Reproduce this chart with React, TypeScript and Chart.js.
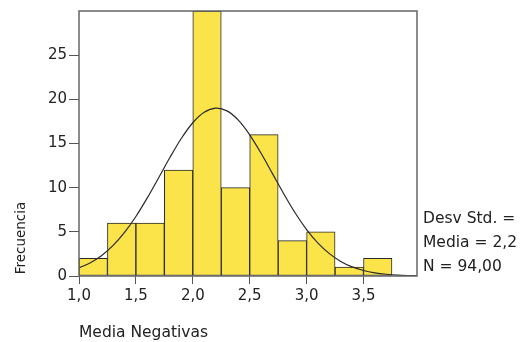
import React, { useEffect, useRef } from "react";
import { Chart, registerables } from "chart.js";

Chart.register(...registerables);

// Histogram bins (lower edge) and frequencies
const binLower = [1.0, 1.25, 1.5, 1.75, 2.0, 2.25, 2.5, 2.75, 3.0, 3.25, 3.5];
const binWidth = 0.25;
const frequencies = [2, 6, 6, 12, 30, 10, 16, 4, 5, 1, 2];

// Fitted normal curve
const curveX = [1.0, 1.1, 1.2, 1.3, 1.4, 1.5, 1.6, 1.7, 1.8, 1.9, 2.0, 2.1, 2.2, 2.3, 2.4, 2.5, 2.6, 2.7, 2.8, 2.9, 3.0, 3.1, 3.2, 3.3, 3.4, 3.5, 3.6, 3.7, 3.8, 3.9, 3.97];
const curveY = [0.93, 1.51, 2.33, 3.46, 4.93, 6.74, 8.84, 11.13, 13.44, 15.59, 17.35, 18.53, 19.0, 18.69, 17.64, 15.98, 13.89, 11.59, 9.29, 7.13, 5.26, 3.72, 2.53, 1.65, 1.03, 0.62, 0.36, 0.2, 0.1, 0.05, 0.03];

const xTicksMin = 1.0;
const xTicksMax = 3.97;
const yMax = 30;

const statsLines = ["Desv Std. =", "Media = 2,2", "N = 94,00"];
const xTitle = "Media Negativas";
const yTitle = "Frecuencia";

const fmt = (v: number) => v.toFixed(1).replace(".", ",");

export default function App() {
  const ref = useRef<HTMLCanvasElement | null>(null);

  useEffect(() => {
    if (!ref.current) return;
    const FONT = "'DejaVu Sans', sans-serif";
    Chart.defaults.font.family = FONT;
    Chart.defaults.color = "#222";

    const framePlugin = {
      id: "framePlugin",
      afterDatasetsDraw(chart: any) {
        const { ctx, chartArea } = chart;
        ctx.save();
        ctx.strokeStyle = "#666";
        ctx.lineWidth = 1.5;
        ctx.strokeRect(chartArea.left, chartArea.top, chartArea.right - chartArea.left, chartArea.bottom - chartArea.top);
        ctx.restore();
      },
      afterDraw(chart: any) {
        const { ctx } = chart;
        ctx.save();
        ctx.fillStyle = "#222";
        ctx.textBaseline = "middle";
        // y title
        ctx.save();
        ctx.translate(21, 238);
        ctx.rotate(-Math.PI / 2);
        ctx.textAlign = "center";
        ctx.font = `13.5px ${FONT}`;
        ctx.fillText(yTitle, 0, 0);
        ctx.restore();
        // x title
        ctx.textAlign = "left";
        ctx.font = `15.5px ${FONT}`;
        ctx.fillText(xTitle, 79, 333);
        // stats
        statsLines.forEach((s, i) => {
          ctx.fillText(s, 423, 219 + i * 24);
        });
        ctx.restore();
      },
    };

    const chart = new Chart(ref.current, {
      type: "bar",
      data: {
        datasets: [
          {
            type: "line",
            data: curveX.map((x, i) => ({ x, y: curveY[i] })),
            borderColor: "#2a2a2a",
            borderWidth: 1.2,
            pointRadius: 0,
            tension: 0.3,
            fill: false,
            order: 0,
          } as any,
          {
            type: "bar",
            data: binLower.map((b, i) => ({ x: b + binWidth / 2, y: frequencies[i] })),
            backgroundColor: "#FBE34A",
            borderColor: "#2a2a2a",
            borderWidth: 1,
            borderSkipped: false,
            barPercentage: 1,
            categoryPercentage: 1,
            order: 1,
          } as any,
        ],
      },
      options: {
        animation: false,
        responsive: false,
        maintainAspectRatio: false,
        layout: { padding: { left: 0, right: 105, top: 10, bottom: 0 } },
        plugins: { legend: { display: false }, tooltip: { enabled: false } },
        scales: {
          x: {
            type: "linear",
            min: xTicksMin,
            max: xTicksMax,
            offset: false,
            border: { display: false },
            grid: { display: true, offset: false, drawOnChartArea: false, drawTicks: true, tickLength: 8, color: "#555" },
            ticks: {
              stepSize: 0.5,
              includeBounds: false,
              autoSkip: false,
              maxRotation: 0,
              padding: 3,
              font: { size: 15 },
              color: "#222",
              callback: (v: any) => fmt(Number(v)),
            },
            afterFit: (s: any) => {
              s.height = 66;
            },
          },
          y: {
            min: 0,
            max: yMax,
            border: { display: false },
            grid: { display: true, drawOnChartArea: false, drawTicks: true, tickLength: 10, color: "#555" },
            ticks: {
              stepSize: 5,
              padding: 2,
              font: { size: 15 },
              color: "#222",
              callback: (v: any) => (Number(v) === yMax ? null : String(v)),
            },
            afterFit: (s: any) => {
              s.width = 79;
            },
          },
        },
      },
      plugins: [framePlugin],
    } as any);

    return () => chart.destroy();
  }, []);

  return (
    <div style={{ position: "absolute", left: 0, top: 0, width: 522, height: 342, background: "#fff" }}>
      <canvas ref={ref} width={522} height={342} style={{ width: 522, height: 342 }} />
    </div>
  );
}
